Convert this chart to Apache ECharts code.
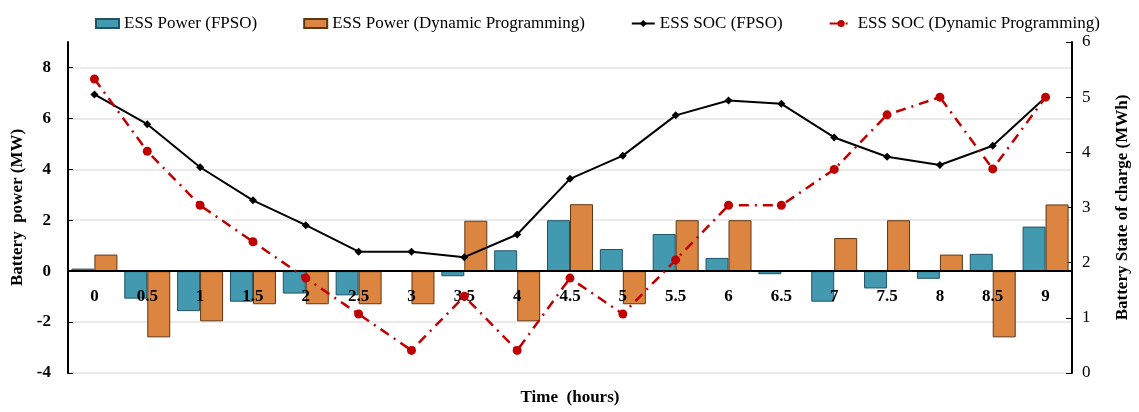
<!DOCTYPE html>
<html>
<head>
<meta charset="utf-8">
<script src="https://cdn.jsdelivr.net/npm/echarts@6/dist/echarts.min.js"></script>
<style>
  html, body { margin: 0; padding: 0; background: #fff; }
  #chart { width: 1139px; height: 412px; }
</style>
</head>
<body>
<div id="chart"></div>
<script>
// time steps (hours)
var hours = ['0', '0.5', '1', '1.5', '2', '2.5', '3', '3.5', '4', '4.5', '5', '5.5', '6', '6.5', '7', '7.5', '8', '8.5', '9'];
// battery power (MW)
var powerFPSO = [0.1, -1.08, -1.57, -1.2, -0.88, -0.95, 0, -0.2, 0.82, 2.0, 0.87, 1.46, 0.52, -0.12, -1.2, -0.68, -0.3, 0.68, 1.75];
var powerDP = [0.65, -2.6, -1.97, -1.3, -1.3, -1.3, -1.3, 1.98, -1.97, 2.63, -1.3, 2.0, 2.0, 0, 1.3, 2.0, 0.65, -2.6, 2.62];
// state of charge (MWh)
var socFPSO = [5.05, 4.51, 3.73, 3.13, 2.68, 2.2, 2.2, 2.1, 2.51, 3.52, 3.94, 4.67, 4.94, 4.88, 4.27, 3.92, 3.77, 4.12, 5.0];
var socDP = [5.33, 4.02, 3.04, 2.38, 1.72, 1.07, 0.41, 1.39, 0.41, 1.72, 1.07, 2.05, 3.04, 3.04, 3.69, 4.68, 5.0, 3.7, 5.0];

var serif = 'Liberation Serif';
var chart = echarts.init(document.getElementById('chart'));
var option = {
  textStyle: { fontFamily: serif },
  legend: {
    top: 10,
    left: 90,
    itemGap: 46,
    itemWidth: 23,
    itemHeight: 9,
    textStyle: { fontFamily: serif, fontSize: 17, color: '#000' },
    data: [
      { name: 'ESS Power (FPSO)', icon: 'rect' },
      { name: 'ESS Power (Dynamic Programming)', icon: 'rect' },
      'ESS SOC (FPSO)',
      'ESS SOC (Dynamic Programming)'
    ]
  },
  grid: { left: 68, right: 67, top: 42, bottom: 39, outerBoundsMode: 'none' },
  xAxis: {
    type: 'category',
    data: hours,
    z: 5,
    // axis sits on the zero of the power axis: (0 - (-4)) / 13 of the plot height
    offset: -102,
    name: 'Time  (hours)',
    nameLocation: 'middle',
    nameGap: 118,
    nameTextStyle: { fontFamily: serif, fontSize: 17, fontWeight: 'bold', color: '#000' },
    axisLine: { onZero: false, lineStyle: { color: '#000', width: 2 } },
    axisTick: { inside: true, length: 5, lineStyle: { color: '#000' } },
    axisLabel: { margin: 17, fontFamily: serif, fontSize: 17, fontWeight: 'bold', color: '#000' }
  },
  yAxis: [
    {
      type: 'value',
      min: -4,
      max: 9,
      interval: 2,
      name: 'Battery  power (MW)',
      nameLocation: 'middle',
      nameGap: 38,
      nameTextStyle: { fontFamily: serif, fontSize: 17, fontWeight: 'bold', color: '#000' },
      axisLine: { show: true, lineStyle: { color: '#000', width: 2 } },
      axisTick: { show: true, inside: true, length: 5, lineStyle: { color: '#000' } },
      axisLabel: { showMaxLabel: false, margin: 17, fontFamily: serif, fontSize: 17, fontWeight: 'bold', color: '#000' },
      splitLine: { show: true, showMaxLine: false, lineStyle: { color: '#e3e3e3', width: 1.5 } }
    },
    {
      type: 'value',
      min: 0,
      max: 6,
      interval: 1,
      name: 'Battery State of charge (MWh)',
      nameLocation: 'middle',
      nameGap: 42,
      nameTextStyle: { fontFamily: serif, fontSize: 17, fontWeight: 'bold', color: '#000' },
      axisLine: { show: true, lineStyle: { color: '#000', width: 2 } },
      axisTick: { show: true, inside: true, length: 6, lineStyle: { color: '#000' } },
      axisLabel: { margin: 10, fontFamily: serif, fontSize: 17, color: '#000' },
      splitLine: { show: false }
    }
  ],
  series: [
    {
      name: 'ESS Power (FPSO)',
      type: 'bar',
      yAxisIndex: 0,
      data: powerFPSO,
      barGap: '0%',
      barCategoryGap: '13%',
      itemStyle: { color: '#4399b0', borderColor: '#1f5563', borderWidth: 1 }
    },
    {
      name: 'ESS Power (Dynamic Programming)',
      type: 'bar',
      yAxisIndex: 0,
      data: powerDP,
      itemStyle: { color: '#dc8541', borderColor: '#5e3614', borderWidth: 1 }
    },
    {
      name: 'ESS SOC (FPSO)',
      type: 'line',
      yAxisIndex: 1,
      z: 6,
      data: socFPSO,
      symbol: 'diamond',
      symbolSize: 8,
      lineStyle: { color: '#000', width: 2 },
      itemStyle: { color: '#000' }
    },
    {
      name: 'ESS SOC (Dynamic Programming)',
      type: 'line',
      yAxisIndex: 1,
      z: 6,
      data: socDP,
      symbol: 'circle',
      symbolSize: 9,
      lineStyle: { color: '#c00000', width: 2.5, type: [10, 6, 2, 6] },
      itemStyle: { color: '#c00000' }
    }
  ]
};
chart.setOption(option);
</script>
</body>
</html>
